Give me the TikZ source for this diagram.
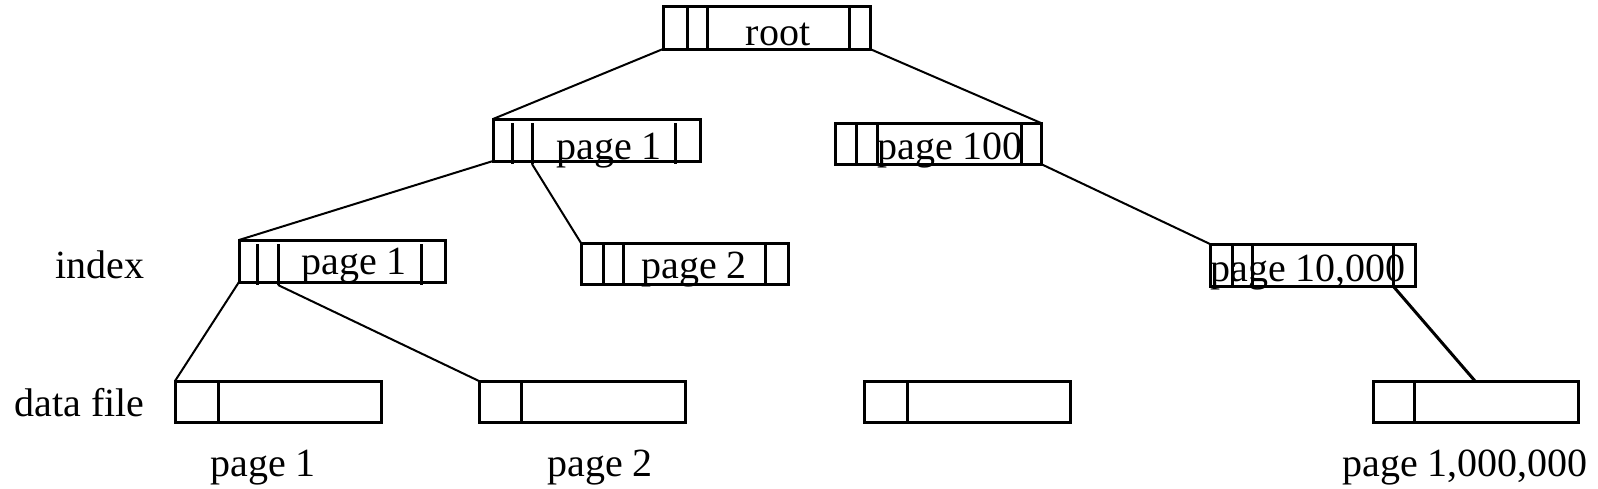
\documentclass[tikz,border=0pt]{standalone}
\usepackage{fontspec}
\setmainfont{Liberation Serif}
\tikzset{
  box/.style={draw, line width=1.5pt, rectangle, inner sep=0pt, outer sep=0pt},
  divline/.style={line width=1.5pt},
  conn/.style={line width=1pt},
  lbl/.style={inner sep=0pt, anchor=base, font=\fontsize{20}{24}\selectfont},
}
\newcommand\ibox[6]{%
  \node[box, minimum width={(#4-#2)*0.5pt}, minimum height={(#5-#3)*0.5pt}] (#1) at ({(#2+#4)/2},{(#3+#5)/2}) {};
  \foreach \d in {#6} {\draw[divline] (\d,#3) -- (\d,#5);}
}
\newcommand\oboxdiv[7]{% dividers offset downward
  \node[box, minimum width={(#4-#2)*0.5pt}, minimum height={(#5-#3)*0.5pt}] (#1) at ({(#2+#4)/2},{(#3+#5)/2}) {};
  \foreach \d in {#6} {\draw[divline] (\d,#3+#7) -- (\d,#5+3);}
}
\begin{document}
\begin{tikzpicture}[x=0.5pt,y=-0.5pt]
\useasboundingbox[fill=white] (0,0) rectangle (1598,488);
% boxes
\ibox{root}{663}{6}{870}{49}{687,707,849}
\oboxdiv{pa}{493}{119}{700}{161}{512,532,675}{4}
\ibox{pc}{835}{123}{1041}{164}{856,877,1021}
\oboxdiv{pb}{239}{240}{445}{282}{257,278,421}{4}
\ibox{pd}{581}{243}{788}{284}{603,623,765}
\ibox{pe}{1210}{244}{1415}{286}{1232,1252,1393}
\ibox{da}{175}{381}{381}{422}{218}
\ibox{db}{479}{381}{685}{422}{521}
\ibox{dc}{864}{381}{1070}{422}{907}
\ibox{dd}{1373}{381}{1578}{422}{1414}
% texts in boxes
\node[lbl] (troot) at (778,45) {root};
\node[lbl] (tpa) at (609,159) {page 1};
\node[lbl] (tpc) at (950,159) {page 100};
\node[lbl] (tpb) at (354,274) {page 1};
\node[lbl] (tpd) at (694,278) {page 2};
\node[lbl] (tpe) at (1308,281) {page 10,000};
% side labels
\node[lbl, anchor=base west] (lindex) at (55,278) {index};
\node[lbl, anchor=base west] (ldata) at (14,416) {data file};
% bottom labels
\node[lbl] (bl1) at (263,476) {page 1};
\node[lbl] (bl2) at (600,476) {page 2};
\node[lbl] (bl3) at (1465,476) {page 1,000,000};
% connector anchors
\coordinate (pa2) at (532,164);
\coordinate (pb2) at (278,285);
\coordinate (pe3) at (1393,286);
\coordinate (ddin) at (1475,381);
% connectors
\draw[conn] (root.south west) -- (pa.north west);
\draw[conn] (root.south east) -- (pc.north east);
\draw[conn] (pa.south west) -- (pb.north west);
\draw[conn] (pa2) -- (pd.north west);
\draw[conn] (pc.south east) -- (pe.north west);
\draw[conn] (pb.south west) -- (da.north west);
\draw[conn] (pb2) -- (db.north west);
\draw[conn, line width=1.5pt] (pe3) -- (ddin);
\end{tikzpicture}
\end{document}
